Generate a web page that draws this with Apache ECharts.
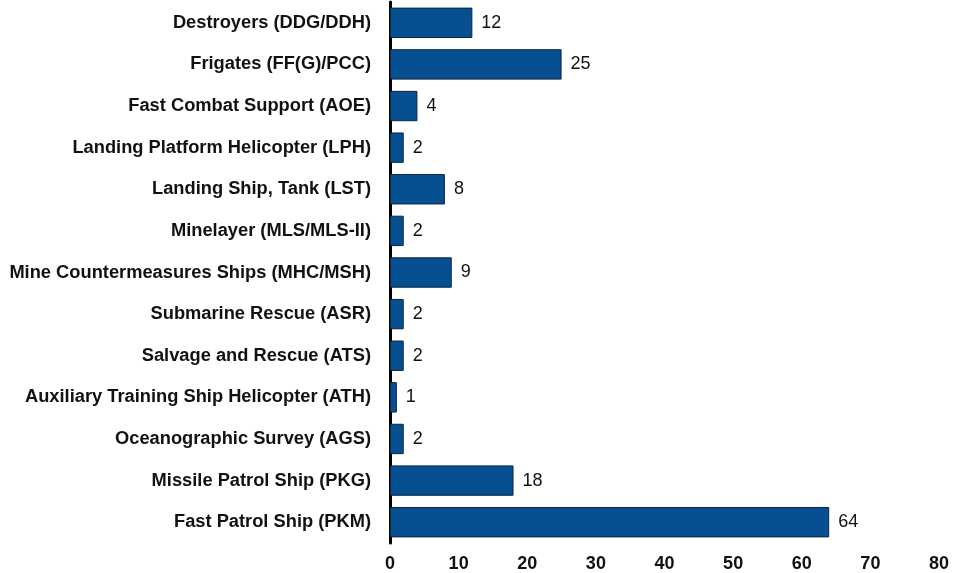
<!DOCTYPE html>
<html><head><meta charset="utf-8">
<script src="https://cdn.jsdelivr.net/npm/echarts@6/dist/echarts.min.js"></script>
<style>html,body{margin:0;padding:0;background:#fff}#c{width:964px;height:573px}</style>
</head><body><div id="c"></div>
<script>
const categories = [
  "Destroyers (DDG/DDH)",
  "Frigates (FF(G)/PCC)",
  "Fast Combat Support (AOE)",
  "Landing Platform Helicopter (LPH)",
  "Landing Ship, Tank (LST)",
  "Minelayer (MLS/MLS-II)",
  "Mine Countermeasures Ships (MHC/MSH)",
  "Submarine Rescue (ASR)",
  "Salvage and Rescue (ATS)",
  "Auxiliary Training Ship Helicopter (ATH)",
  "Oceanographic Survey (AGS)",
  "Missile Patrol Ship (PKG)",
  "Fast Patrol Ship (PKM)"
];
const values = [12, 25, 4, 2, 8, 2, 9, 2, 2, 1, 2, 18, 64];
const xTicks = [0, 10, 20, 30, 40, 50, 60, 70, 80];

const chart = echarts.init(document.getElementById('c'));
chart.setOption({
  animation: false,
  grid: {left: 390, right: 25, top: 2, bottom: 26, containLabel: false},
  xAxis: {
    type: 'value', min: xTicks[0], max: xTicks[xTicks.length-1], interval: 10,
    axisLine: {show: false}, axisTick: {show: false}, splitLine: {show: false},
    axisLabel: {fontFamily: 'Liberation Sans', fontWeight: 'bold', fontSize: 18, color: '#111', margin: 12}
  },
  yAxis: {
    type: 'category', data: categories, inverse: true,
    axisLine: {show: true, lineStyle: {color: '#000', width: 3}},
    axisTick: {show: false},
    axisLabel: {fontFamily: 'Liberation Sans', fontWeight: 'bold', fontSize: 18.3, color: '#111', margin: 19}
  },
  series: [{
    type: 'bar', data: values, barWidth: '73%',
    itemStyle: {color: '#064f90', borderColor: '#0d2540', borderWidth: 1},
    label: {show: true, position: 'right', distance: 9, fontFamily: 'Liberation Sans', fontSize: 18, color: '#111'}
  }]
});
</script></body></html>
